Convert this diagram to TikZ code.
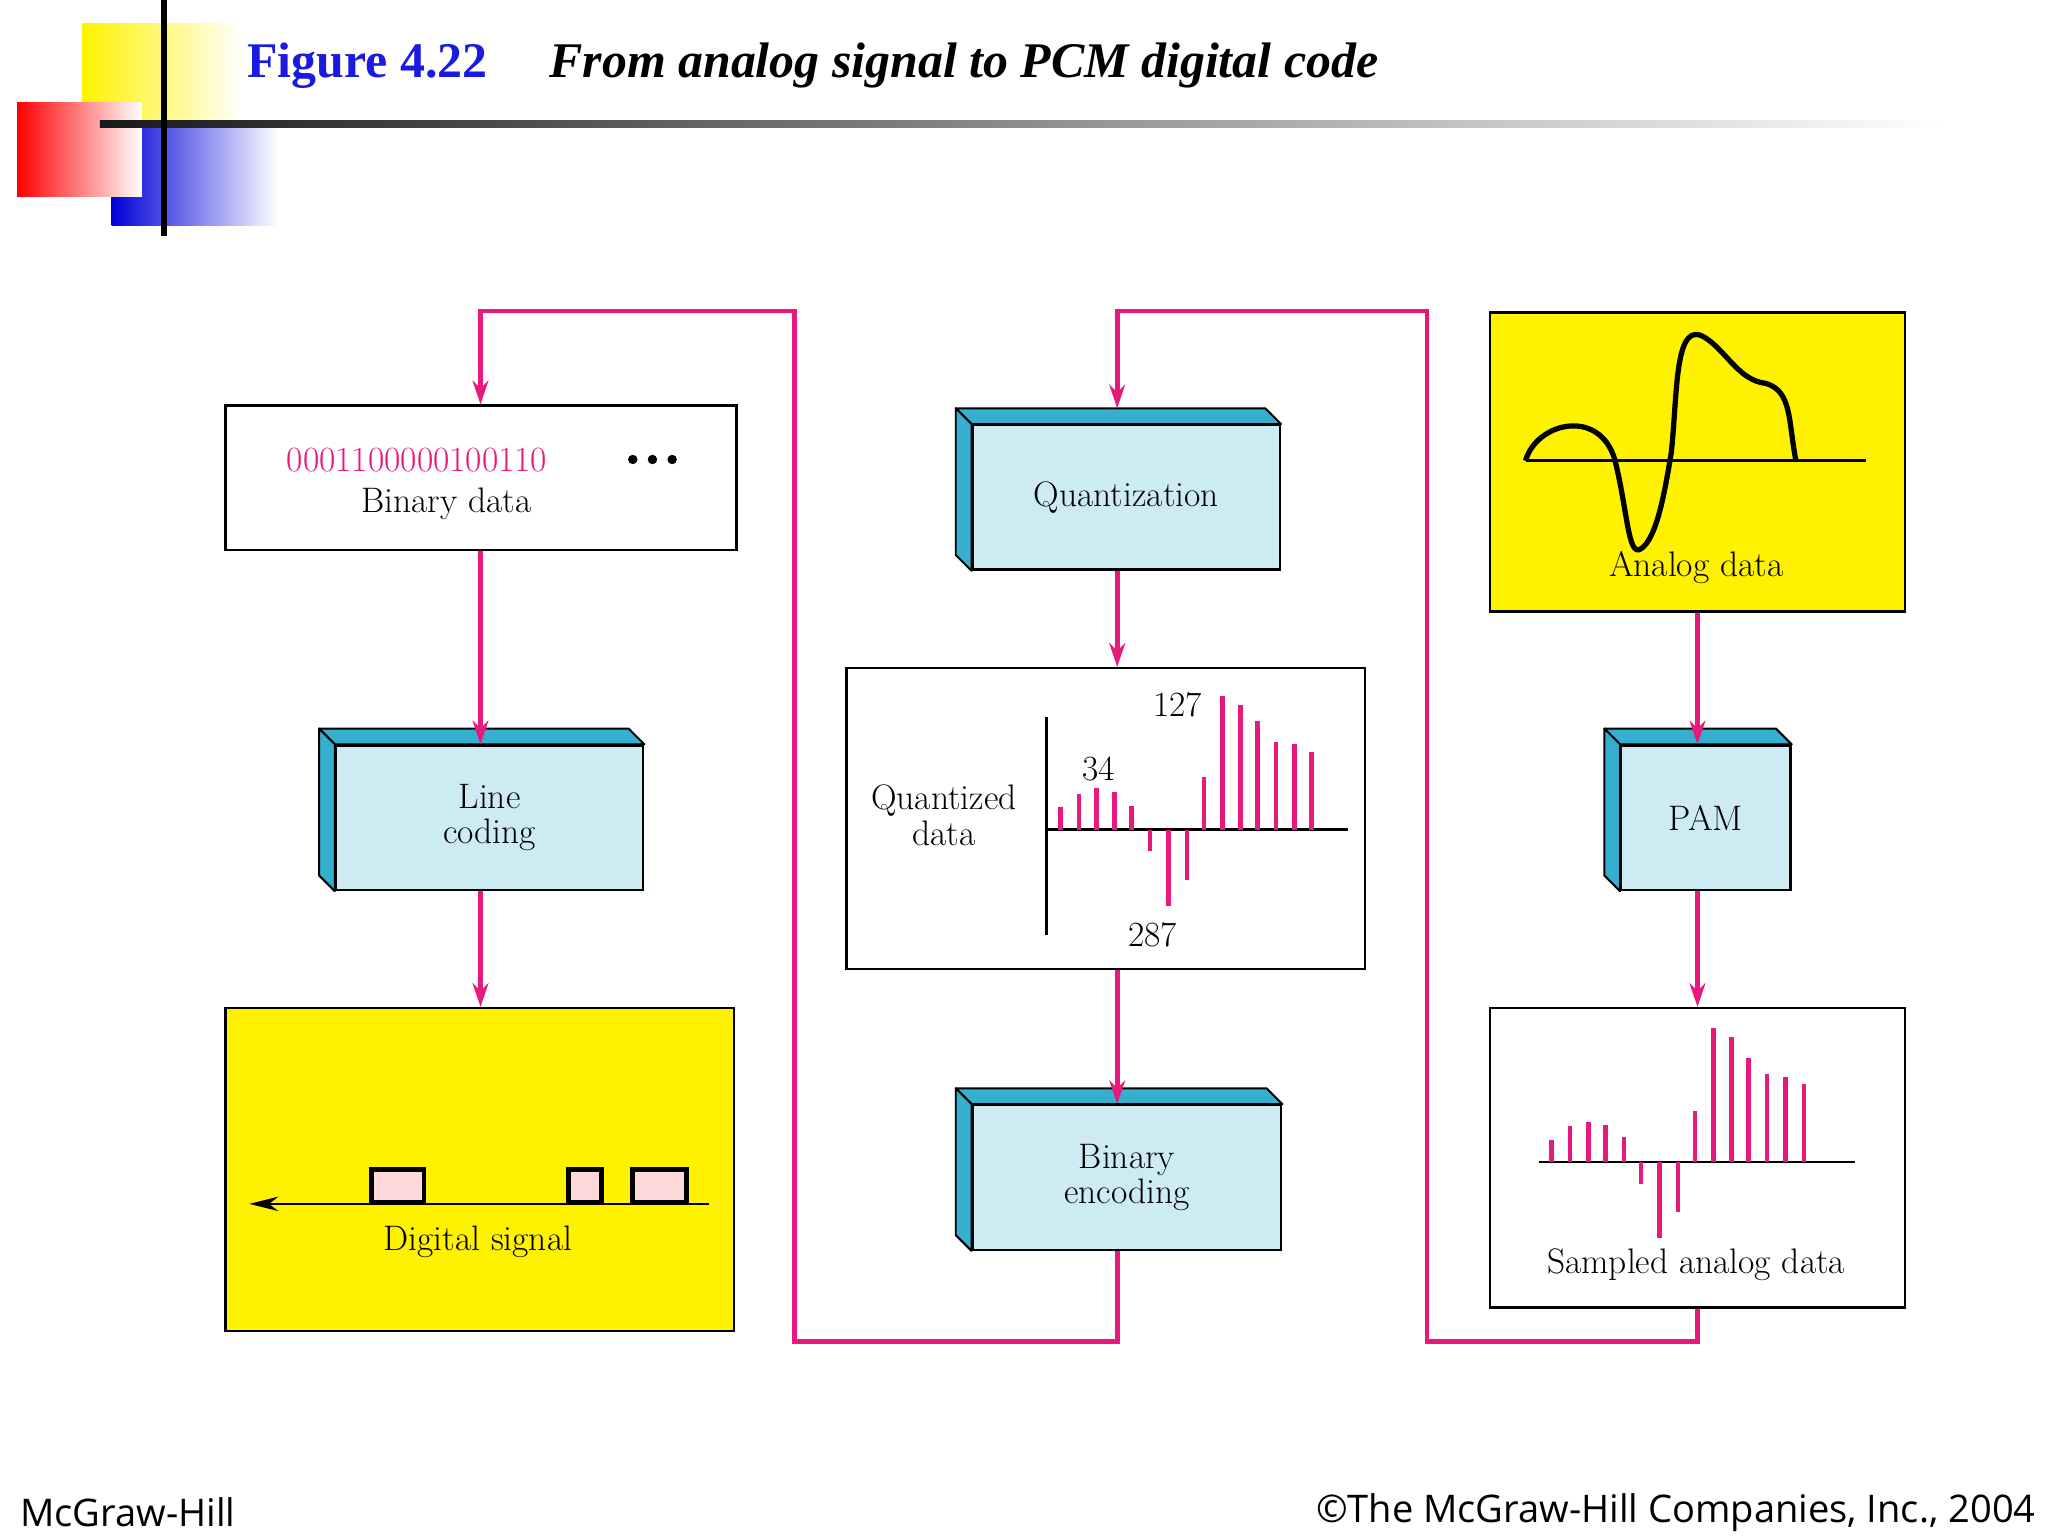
\documentclass[tikz,border=0pt]{standalone}
\usepackage{fontspec}
\newfontfamily\titlefont{Liberation Serif}
\newfontfamily\footfont{Open Sans}
\usetikzlibrary{arrows.meta}
\definecolor{pk}{HTML}{E8197D}
\definecolor{cyf}{HTML}{CDEBF2}
\definecolor{cyd}{HTML}{36AFCF}
\definecolor{bl}{HTML}{1A1AE0}
\begin{document}
\begin{tikzpicture}[x=1pt,y=-1pt,
  txt/.style={font=\fontsize{27}{31}\selectfont, align=center},
  box/.style={draw=black, line width=1.8pt, anchor=north west, inner sep=0pt},
  front/.style={box, fill=cyf, txt},
  side/.style={fill=cyd, draw=black, line width=1.5pt, line join=round},
  con/.style={draw=pk, line width=3.5pt, -{Stealth[length=18pt,width=12pt]}},
  bar/.style={draw=pk, line width=3.5pt}]
\useasboundingbox (0,0) rectangle (1560,1170);
% decoration
\shade[left color=yellow!90!orange, right color=white] (63,18) rectangle (185,95);
\shade[left color=blue!85!black, right color=white] (85,95) rectangle (212,172);
\shade[left color=red, right color=white] (13,78) rectangle (108,150);
\shade[left color=black!90, right color=white] (76,92) rectangle (1480,97);
\draw[line width=4pt] (125,0) -- (125,180);
\node[anchor=west, text=bl, font=\titlefont\bfseries\fontsize{38}{42}\selectfont] (fig) at (185,50) {Figure 4.22};
\node[anchor=west, font=\titlefont\bfseries\itshape\fontsize{38}{42}\selectfont] (ttl) at (415,50) {From analog signal to PCM digital code};
\node[anchor=west, font=\footfont\fontsize{29}{33}\selectfont] (mh) at (12,1152) {McGraw-Hill};
\node[anchor=east, font=\footfont\fontsize{29}{33}\selectfont] (cp) at (1554,1152) {©The McGraw-Hill Companies, Inc., 2004};

% binary data
\node[box, minimum width=389, minimum height=110] (bd) at (171,308) {};
\node[txt, text=pk, anchor=base west] (bits) at (215,359) {0001100000100110};
\foreach \x in {482,497,512} \fill (\x,350) circle (3.6);
\node[txt] (bdl) at (340,384) {Binary data};

% 3D boxes
\newcommand\threed[6]{%
  \node[front, minimum width=#4-#2, minimum height=#5-#3] (#1) at (#2,#3) {};
  \path[side] (#1.north west) -- ++(-12,-12) -- ([shift={(-12,-12)}]#1.north east) -- (#1.north east) -- cycle;
  \path[side] (#1.north west) -- ++(-12,-12) -- ([shift={(-12,-12)}]#1.south west) -- (#1.south west) -- cycle;
  \node[txt] at (#1.center) {#6};}
\threed{lc}{255}{567}{489}{677}{Line\\[-4pt]coding}
\threed{qz}{740}{323}{974}{433}{Quantization}
\threed{be}{740}{841}{975}{951}{Binary\\[-4pt]encoding}
\threed{pam}{1234}{567}{1363}{677}{PAM}

% digital signal
\node[box, fill=yellow, minimum width=387, minimum height=246] (ds) at (171,767) {};
\coordinate (dsr) at (540,917);
\coordinate (dsl) at (190,917);
\draw[line width=2pt, -{Stealth[length=22pt,width=11pt]}] (dsr) -- (dsl);
\foreach \a/\b in {283/323,433/458,482/523}
  \draw[line width=3.5pt, fill=pink!60] (\a,891) rectangle (\b,916);
\node[txt] (dsl2) at (364,946) {Digital signal};

% quantized data
\node[box, minimum width=395, minimum height=229] (qd) at (644,508) {};
\node[txt] (qdl) at (719,621) {Quantized\\[-4pt]data};
\draw[line width=2pt] (797,546) -- (797,712);
\draw[line width=2pt] (797,632) -- (1027,632);
\foreach \x/\y in {808/615,822/605,835/600,849/603,862/614,876/648,890/690,904/670,917/592,931/530,945/537,958/549,972/565,986/567,999/573}
  \draw[bar] (\x,632) -- (\x,\y);
\node[txt] (l34) at (837,586) {34};
\node[txt] (l127) at (897,537) {127};
\node[txt] (l287) at (878,712) {287};

% analog data
\node[box, fill=yellow, minimum width=316, minimum height=228] (ad) at (1134,237) {};
\draw[line width=2pt] (1162,351) -- (1421,351);
\draw[line width=4pt, line join=round] (1162,351) .. controls (1170,322) and (1218,310) .. (1230,350)
  .. controls (1240,390) and (1240,425) .. (1250,418)
  .. controls (1262,410) and (1268,375) .. (1273,345)
  .. controls (1278,300) and (1275,240) .. (1300,258)
  .. controls (1315,268) and (1325,290) .. (1345,292)
  .. controls (1365,298) and (1362,320) .. (1368,351);
\node[txt] (adl) at (1292,432) {Analog data};

% sampled analog data
\node[box, minimum width=316, minimum height=228] (sa) at (1134,767) {};
\draw[line width=2pt] (1172,885) -- (1413,885);
\foreach \x/\y in {1182/868,1196/858,1210/855,1223/857,1237/866,1250/902,1264/943,1278/923,1291/846,1305/783,1319/790,1332/806,1346/818,1360/820,1374/826}
  \draw[bar] (\x,885) -- (\x,\y);
\node[txt] (sal) at (1292,963) {Sampled analog data};

% connectors
\draw[con] (bd.south -| 366,0) -- (lc.north -| 366,0);
\draw[con] (lc.south -| 366,0) -- (ds.north -| 366,0);
\draw[con] (qz.south -| 851,0) -- (qd.north -| 851,0);
\draw[con] (qd.south -| 851,0) -- (be.north -| 851,0);
\draw[con] (ad.south -| 1293,0) -- (pam.north -| 1293,0);
\draw[con] (pam.south -| 1293,0) -- (sa.north -| 1293,0);
\draw[con, line join=miter] (be.south -| 851,0) -- (851,1022) -- (605,1022) -- (605,237) -- (366,237) -- (bd.north -| 366,0);
\draw[con, line join=miter] (sa.south -| 1293,0) -- (1293,1022) -- (1087,1022) -- (1087,237) -- (851,237) -- ([yshift=12pt]qz.north -| 851,0);
\end{tikzpicture}
\end{document}
